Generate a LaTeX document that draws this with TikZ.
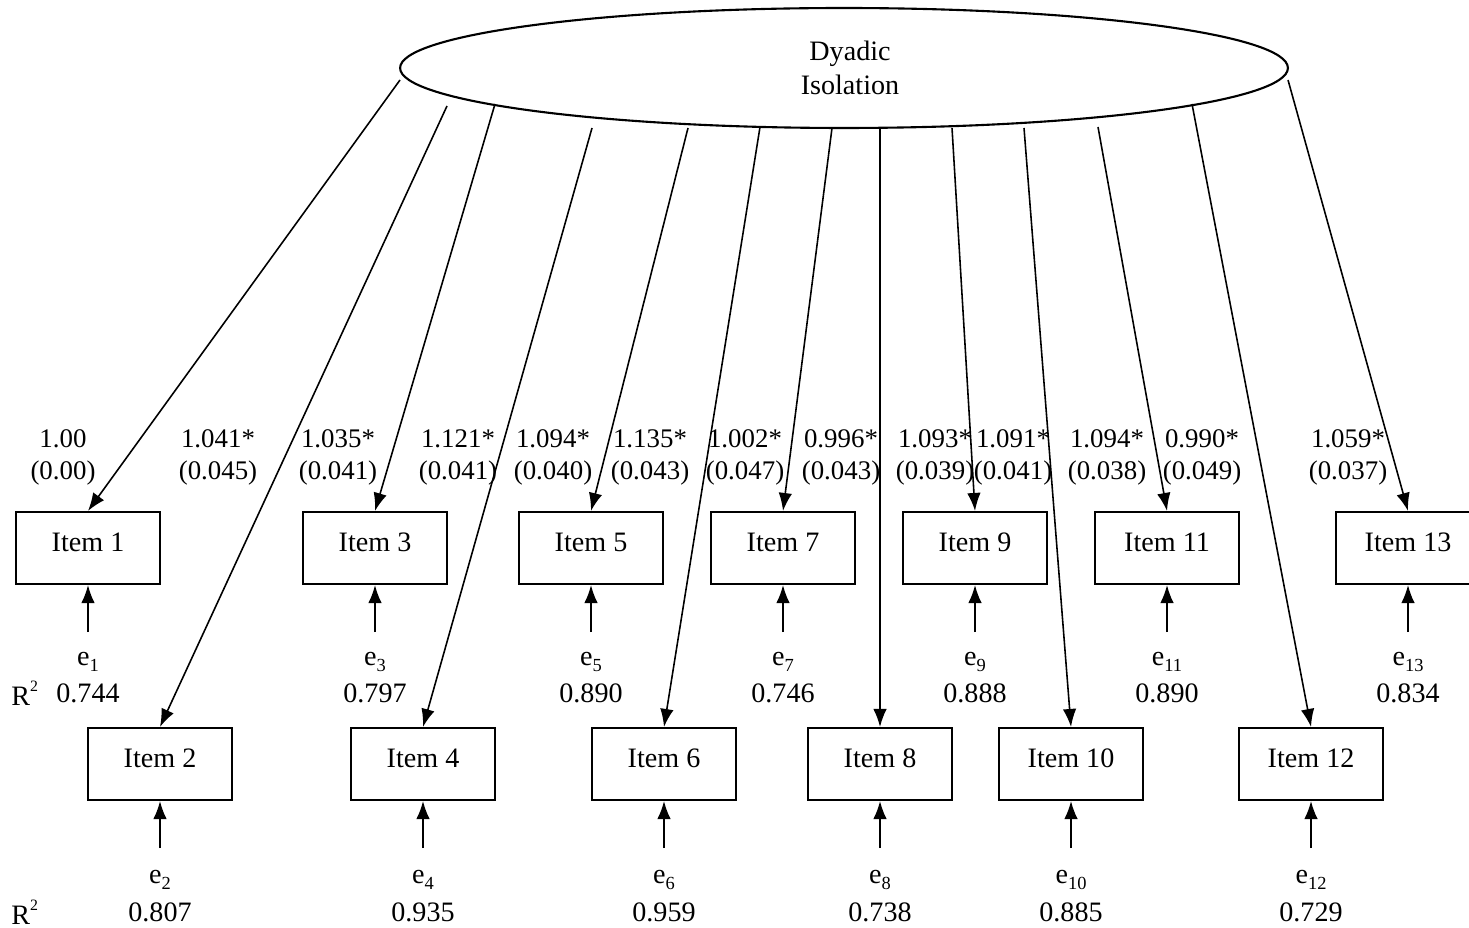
\documentclass[tikz,border=0pt]{standalone}
\usepackage{fontspec}
\setmainfont{Liberation Serif}
\usetikzlibrary{arrows.meta,shapes.geometric}
\tikzset{
  item/.style={draw,line width=1.2pt,rectangle,minimum width=2.88cm,minimum height=1.44cm,inner sep=0pt},
  latent/.style={draw,line width=1.2pt,ellipse,minimum width=17.76cm,minimum height=2.4cm,inner sep=0pt},
  load/.style={line width=0.9pt,-{Latex[length=0.36cm,width=0.27cm]}},
  err/.style={line width=0.9pt,-{Latex[length=0.36cm,width=0.27cm]}},
  lbl/.style={align=center,inner sep=0pt,font=\fontsize{15.3}{18.2}\selectfont},
  txt/.style={inner sep=0pt,font=\fontsize{16}{18}\selectfont},
}
\begin{document}
\begin{tikzpicture}[x=0.02cm,y=-0.02cm]
\useasboundingbox (0,0) rectangle (1469,928);
% latent
\node[latent] (L) at (844,68) {};
\node[txt,align=center] (Lt) at (850,68) {Dyadic\\[1pt]Isolation};
% items top row
\node[item] (i1) at (88,548) {};
\node[item] (i3) at (375,548) {};
\node[item] (i5) at (591,548) {};
\node[item] (i7) at (783,548) {};
\node[item] (i9) at (975,548) {};
\node[item] (i11) at (1167,548) {};
\node[item] (i13) at (1408,548) {};
% items bottom row
\node[item] (i2) at (160,764) {};
\node[item] (i4) at (423,764) {};
\node[item] (i6) at (664,764) {};
\node[item] (i8) at (880,764) {};
\node[item] (i10) at (1071,764) {};
\node[item] (i12) at (1311,764) {};
\foreach \k in {1,...,13} {\node[txt] (t\k) at ([yshift=0.11cm]i\k.center) {Item \k};}
% loading start points
\coordinate (s1) at (400,80);
\coordinate (s2) at (447,106);
\coordinate (s3) at (495,104);
\coordinate (s4) at (592,128);
\coordinate (s5) at (688,128);
\coordinate (s6) at (760,127);
\coordinate (s7) at (832,128);
\coordinate (s8) at (880,128);
\coordinate (s9) at (952,128);
\coordinate (s10) at (1024,128);
\coordinate (s11) at (1098,127);
\coordinate (s12) at (1192,104);
\coordinate (s13) at (1288,80);
\foreach \k in {1,...,13} {\draw[load] (s\k) -- (i\k.north);}
% loading labels
\node[lbl] (l1) at (63,457) {1.00\\(0.00)};
\node[lbl] (l2) at (218,457) {1.041*\\(0.045)};
\node[lbl] (l3) at (338,457) {1.035*\\(0.041)};
\node[lbl] (l4) at (458,457) {1.121*\\(0.041)};
\node[lbl] (l5) at (553,457) {1.094*\\(0.040)};
\node[lbl] (l6) at (650,457) {1.135*\\(0.043)};
\node[lbl] (l7) at (745,457) {1.002*\\(0.047)};
\node[lbl] (l8) at (841,457) {0.996*\\(0.043)};
\node[lbl] (l9) at (935,457) {1.093*\\(0.039)};
\node[lbl] (l10) at (1013,457) {1.091*\\(0.041)};
\node[lbl] (l11) at (1107,457) {1.094*\\(0.038)};
\node[lbl] (l12) at (1202,457) {0.990*\\(0.049)};
\node[lbl] (l13) at (1348,457) {1.059*\\(0.037)};
% error terms top row
\foreach \k/\x/\v in {1/88/0.744,3/375/0.797,5/591/0.890,7/783/0.746,9/975/0.888,11/1167/0.890,13/1408/0.834} {
  \coordinate (c\k) at (\x,632);
  \draw[err] (c\k) -- (i\k.south);
  \node[txt] (e\k) at (\x,662) {e{\fontsize{10.5}{12}\selectfont\raisebox{-3pt}{\k}}};
  \node[txt] (r\k) at (\x,693) {\v};
}
% error terms bottom row
\foreach \k/\x/\v in {2/160/0.807,4/423/0.935,6/664/0.959,8/880/0.738,10/1071/0.885,12/1311/0.729} {
  \coordinate (c\k) at (\x,848);
  \draw[err] (c\k) -- (i\k.south);
  \node[txt] (e\k) at (\x,880) {e{\fontsize{10.5}{12}\selectfont\raisebox{-3pt}{\k}}};
  \node[txt] (r\k) at (\x,912) {\v};
}
\node[txt,anchor=west] (R1) at (11,693) {R{\fontsize{9}{12}\selectfont\raisebox{8pt}{2}}};
\node[txt,anchor=west] (R2) at (11,912) {R{\fontsize{9}{12}\selectfont\raisebox{8pt}{2}}};
\end{tikzpicture}
\end{document}
